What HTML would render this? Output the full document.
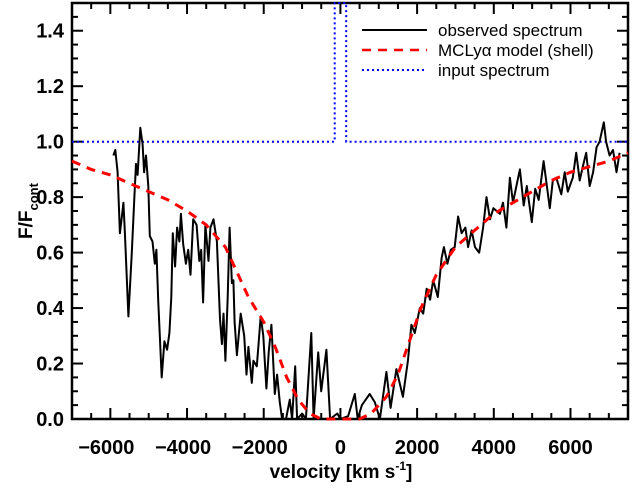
<!DOCTYPE html>
<html><head><meta charset="utf-8"><style>
body{margin:0;background:#fff;}
svg{display:block;font-family:"Liberation Sans",sans-serif;}
</style></head><body>
<svg id="chart" width="632" height="489">
<g id="axes"></g>
<g id="series"></g>
<g>
<line x1="362" y1="30" x2="427" y2="30" stroke="#000" stroke-width="2"/>
<text x="438" y="36" font-size="17">observed spectrum</text>
<line x1="362" y1="50" x2="427" y2="50" stroke="#f00" stroke-width="2.5" stroke-dasharray="9,7"/>
<text x="438" y="56" font-size="17">MCLyα model (shell)</text>
<line x1="362" y1="70" x2="427" y2="70" stroke="#00f" stroke-width="2" stroke-dasharray="2,3"/>
<text x="438" y="76" font-size="17">input spectrum</text>
</g>
<text x="341" y="478" font-size="19" font-weight="bold" text-anchor="middle">velocity [km s<tspan dy="-8" font-size="12">-1</tspan><tspan dy="8">]</tspan></text>
<text transform="translate(32,211) rotate(-90)" font-size="19" font-weight="bold" text-anchor="middle">F/F<tspan dy="6" font-size="13">cont</tspan></text>
</svg>
<script>
const obsV=[-5920,-5870,-5810,-5750,-5690,-5660,-5620,-5530,-5440,-5370,-5330,-5290,-5220,-5160,-5120,-5070,-5010,-4970,-4900,-4840,-4800,-4750,-4660,-4590,-4520,-4460,-4410,-4370,-4310,-4260,-4200,-4160,-4100,-4030,-3970,-3910,-3840,-3750,-3680,-3630,-3580,-3520,-3440,-3390,-3310,-3220,-3140,-3090,-3050,-3000,-2940,-2890,-2830,-2790,-2760,-2700,-2600,-2510,-2450,-2400,-2310,-2270,-2180,-2080,-2010,-1930,-1870,-1800,-1710,-1650,-1580,-1520,-1420,-1320,-1260,-1180,-1130,-1000,-900,-760,-700,-580,-500,-365,-270,-80,0,200,375,450,560,765,900,1030,1200,1310,1460,1630,1760,1850,1940,2070,2160,2250,2340,2420,2540,2640,2700,2790,2880,2980,3070,3160,3260,3330,3420,3510,3620,3720,3810,3900,3990,4160,4240,4330,4420,4500,4590,4680,4780,4860,4990,5080,5170,5300,5460,5540,5630,5760,5850,5930,6060,6150,6240,6320,6410,6500,6590,6680,6760,6870,6930,7020,7110,7200,7280,7350,7460];
const obsF=[0.95,0.97,0.89,0.67,0.74,0.78,0.67,0.37,0.60,0.81,0.92,0.88,1.05,0.99,0.89,0.95,0.84,0.66,0.64,0.56,0.61,0.42,0.15,0.28,0.25,0.31,0.44,0.67,0.55,0.69,0.64,0.74,0.63,0.56,0.61,0.52,0.72,0.70,0.57,0.61,0.42,0.70,0.57,0.69,0.72,0.64,0.36,0.27,0.38,0.21,0.44,0.69,0.49,0.50,0.35,0.23,0.38,0.30,0.16,0.26,0.13,0.21,0.19,0.37,0.30,0.11,0.24,0.34,0.09,0.16,0.06,0.0,0.0,0.07,0.0,0.19,0.0,0.02,0.0,0.31,0.0,0.24,0.10,0.25,0.0,0.02,0.0,0.01,0.09,0.0,0.05,0.09,0.06,0.0,0.17,0.04,0.18,0.08,0.21,0.34,0.31,0.40,0.38,0.47,0.43,0.50,0.44,0.58,0.62,0.56,0.61,0.62,0.73,0.67,0.69,0.62,0.68,0.62,0.60,0.69,0.80,0.72,0.76,0.74,0.78,0.69,0.87,0.78,0.84,0.90,0.77,0.84,0.71,0.83,0.79,0.93,0.76,0.86,0.87,0.81,0.89,0.82,0.87,0.96,0.86,0.91,0.96,0.84,0.89,0.98,1.00,1.07,1.00,0.95,0.97,0.89,0.96];
const modV=[-7000,-6500,-6000,-5500,-5000,-4500,-4000,-3500,-3000,-2700,-2400,-2000,-1700,-1400,-1100,-800,-500,0,500,800,1200,1500,1800,2100,2500,3000,3500,4000,4500,5000,5500,6000,6500,7000,7500];
const modF=[0.93,0.90,0.88,0.85,0.82,0.79,0.75,0.70,0.62,0.53,0.44,0.35,0.26,0.15,0.07,0.02,0,0,0,0.02,0.08,0.16,0.28,0.40,0.52,0.62,0.68,0.74,0.78,0.82,0.86,0.89,0.91,0.93,0.96];
const inV=[-7000,-150,-150,150,150,7500];
const inF=[1,1,1.5,1.5,1,1];
const xTicks=[-6000,-4000,-2000,0,2000,4000,6000];
const yTicks=[0.0,0.2,0.4,0.6,0.8,1.0,1.2,1.4];

const X0=72,X1=628,Y0=419,Y1=3,XMIN=-7000,XMAX=7500,YMIN=0,YMAX=1.5;
const sx=v=>X0+(v-XMIN)/(XMAX-XMIN)*(X1-X0);
const sy=f=>Y0-(f-YMIN)/(YMAX-YMIN)*(Y0-Y1);
const NS='http://www.w3.org/2000/svg';
function mk(tag,attrs,parent){const e=document.createElementNS(NS,tag);for(const k in attrs)e.setAttribute(k,attrs[k]);parent.appendChild(e);return e;}
const axes=document.getElementById('axes'),series=document.getElementById('series');
function pathOf(V,F){return V.map((v,i)=>(i?'L':'M')+sx(v).toFixed(1)+','+sy(Math.max(YMIN,Math.min(YMAX,F[i]))).toFixed(1)).join('');}

const pin=mk('path',{d:pathOf(inV,inF),fill:'none',stroke:'#00f','stroke-width':2,'stroke-dasharray':'2,3'},series);


const pobs=mk('path',{d:pathOf(obsV,obsF),fill:'none',stroke:'#000','stroke-width':2,'stroke-linejoin':'round'},series);


const pmod=mk('path',{d:pathOf(modV,modF),fill:'none',stroke:'#f00','stroke-width':3,'stroke-dasharray':'9,7'},series);



const frame=mk('rect',{x:X0,y:Y1,width:X1-X0,height:Y0-Y1,fill:'none',stroke:'#000','stroke-width':2.5},axes);


for(let v=-6500;v<=7500;v+=500){
  const major=v%2000===0, L=major?11:6;
  mk('line',{x1:sx(v),x2:sx(v),y1:Y0,y2:Y0-L,stroke:'#000','stroke-width':2},axes);
  mk('line',{x1:sx(v),x2:sx(v),y1:Y1,y2:Y1+L,stroke:'#000','stroke-width':2},axes);
}
for(let i=1;i<30;i++){
  const f=i*0.05, major=i%4===0, L=major?11:6;
  mk('line',{x1:X0,x2:X0+L,y1:sy(f),y2:sy(f),stroke:'#000','stroke-width':2},axes);
  mk('line',{x1:X1,x2:X1-L,y1:sy(f),y2:sy(f),stroke:'#000','stroke-width':2},axes);
}
xTicks.forEach(v=>{
  const t=mk('text',{x:sx(v)-(v<0?4:0),y:454,'font-size':20,'font-weight':'bold','text-anchor':'middle'},axes);
  t.textContent=(v<0?'\u2212':'')+Math.abs(v);
  
  
});
yTicks.forEach(f=>{
  const t=mk('text',{x:64,y:sy(f)+7,'font-size':20,'font-weight':'bold','text-anchor':'end'},axes);
  t.textContent=f.toFixed(1);
  
  
});
</script>
</body></html>
